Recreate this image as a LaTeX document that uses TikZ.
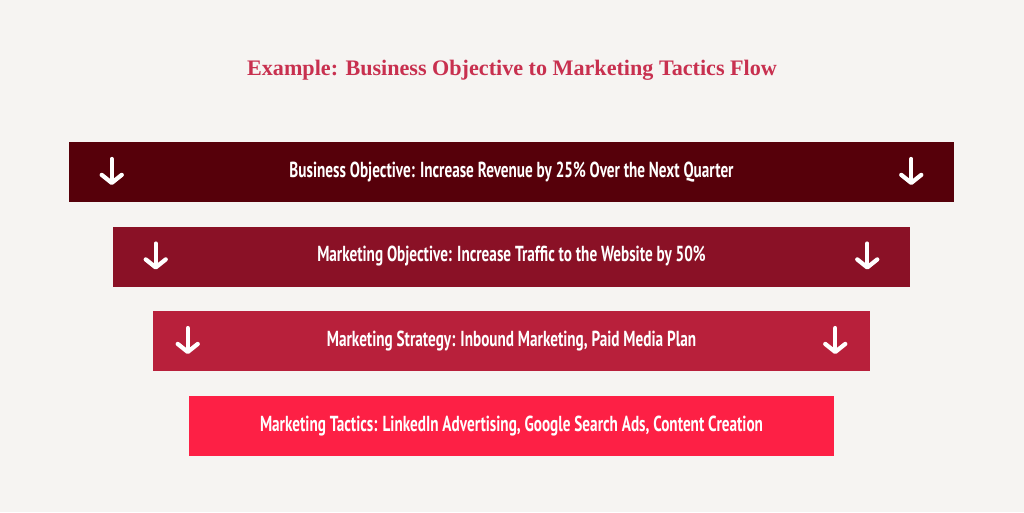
\documentclass[tikz,border=0pt]{standalone}
\usepackage{fontspec}
\setmainfont{Liberation Serif}
\newfontfamily\barfont{PT Sans}[FakeStretch=0.7]
\usepackage{tikz}
\usetikzlibrary{positioning,arrows.meta,calc}

\definecolor{bgcol}{HTML}{F6F4F2}
\definecolor{titlecol}{HTML}{C8304F}
\definecolor{barA}{HTML}{56000A}
\definecolor{barB}{HTML}{8A1126}
\definecolor{barC}{HTML}{B8203B}
\definecolor{barD}{HTML}{FD2045}

\begin{document}
\begin{tikzpicture}[
    x=0.75pt, y=-0.75pt,
    node distance=18pt,
    bar/.style={rectangle, minimum height=45pt, inner sep=0pt, text=white, font=\barfont\bfseries\fontsize{16.3}{19}\selectfont},
    down/.style={white, line width=3.2pt, line cap=round, -{Straight Barb[round, length=6pt, width=15pt]}}
]
% canvas
\fill[bgcol] (0,0) rectangle (1024,512);
\useasboundingbox (0,0) rectangle (1024,512);

% title
\node[text=titlecol, font=\bfseries\fontsize{16.6}{19}\selectfont] (title) at (512,70) {Example: Business Objective to Marketing Tactics Flow};

% bars from top to bottom
\node[bar, fill=barA, minimum width=663.75pt] (bo) at (511.5,172) {Business Objective: Increase Revenue by 25\% Over the Next Quarter};
\node[bar, fill=barB, minimum width=597.75pt, below=of bo] (mo) {Marketing Objective: Increase Traffic to the Website by 50\%};
\node[bar, fill=barC, minimum width=537.75pt, below=of mo] (ms) {Marketing Strategy: Inbound Marketing, Paid Media Plan};
\node[bar, fill=barD, minimum width=483.75pt, below=of ms] (mt) {Marketing Tactics: LinkedIn Advertising, Google Search Ads, Content Creation};

% down arrows at both ends
\foreach \b/\d in {bo/43, mo/43, ms/35} {
  \draw[down] ($(\b.west)+(\d,-13)$) -- ($(\b.west)+(\d,13)$);
  \draw[down] ($(\b.east)+(-\d,-13)$) -- ($(\b.east)+(-\d,13)$);
}

\end{tikzpicture}
\end{document}
